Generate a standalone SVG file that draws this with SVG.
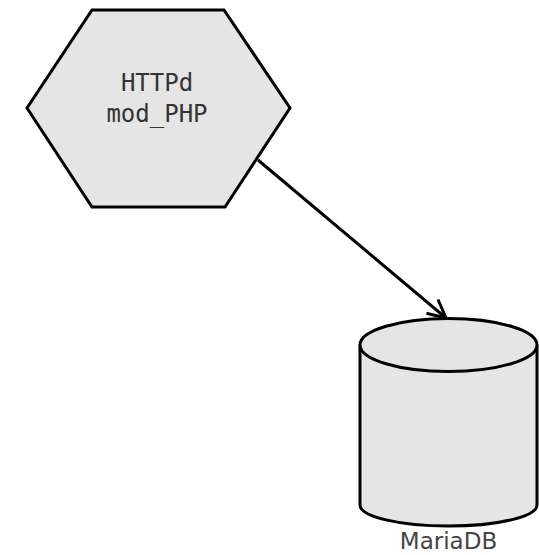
<svg xmlns="http://www.w3.org/2000/svg" width="539" height="555" viewBox="0 0 539 555">
<defs>
<style>
.shape{fill:#e5e5e5;stroke:#000;stroke-width:3;stroke-linejoin:miter}
.mono{font-family:"DejaVu Sans Mono",monospace;font-size:24px;fill:#333;text-anchor:middle}
.sans{font-family:"DejaVu Sans",sans-serif;font-size:23px;fill:#444;text-anchor:middle}
.edge{fill:none;stroke:#000;stroke-width:3}
</style>
<marker id="arr" markerUnits="userSpaceOnUse" markerWidth="30" markerHeight="30" refX="24" refY="12" orient="auto" viewBox="0 0 30 30">
<path d="M6,3 L24,12 L6,21" fill="none" stroke="#000" stroke-width="3"/>
</marker>
</defs>
<rect width="539" height="555" fill="#fff"/>
<g id="connectors">
<line class="edge" x1="258" y1="160" x2="446" y2="318" marker-end="url(#arr)"/>
</g>
<g id="httpd">
<polygon class="shape" points="92,10 224,10 290,108 225,207 92,207 27,108"/>
<text class="mono" x="157" y="91">HTTPd</text>
<text class="mono" x="157" y="122">mod_PHP</text>
</g>
<g id="mariadb">
<path class="shape" d="M360,345 L360,505 A88.5,21 0 0 0 537,505 L537,345"/>
<ellipse class="shape" cx="448.5" cy="345" rx="88.5" ry="26.5"/>
<text class="sans" x="448.5" y="549">MariaDB</text>
</g>
</svg>
